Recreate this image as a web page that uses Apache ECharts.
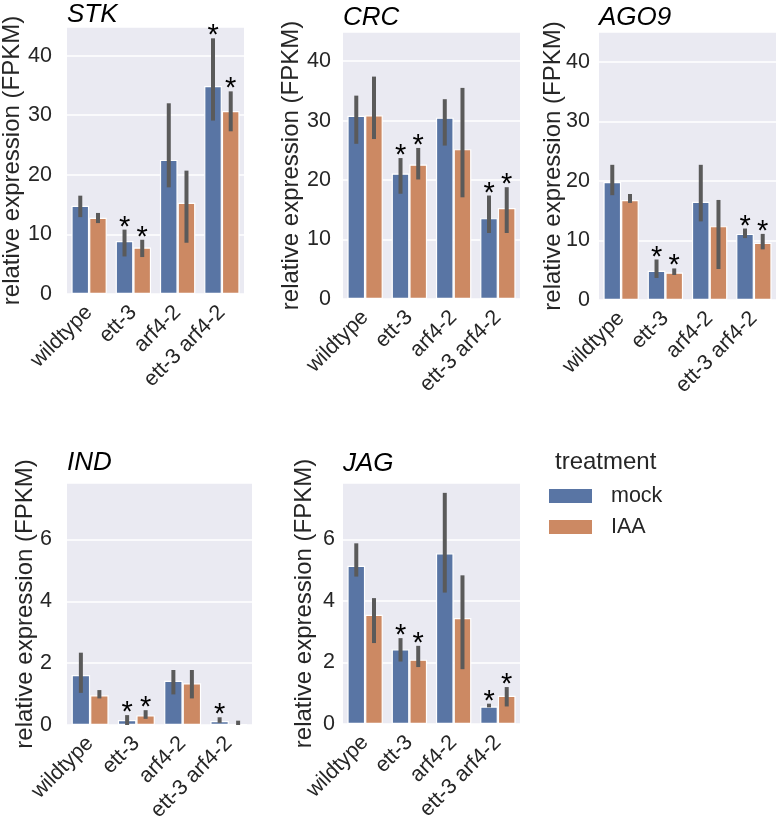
<!DOCTYPE html>
<html><head><meta charset="utf-8">
<script src="https://cdn.jsdelivr.net/npm/echarts@6/dist/echarts.min.js"></script>
<style>html,body{margin:0;padding:0;background:#fff}#c{width:779px;height:826px}</style>
</head><body><div id="c"></div>
<script>
const genotypes = ['wildtype', 'ett-3', 'arf4-2', 'ett-3 arf4-2'];
const treatments = ['mock', 'IAA'];
const genes = ['STK', 'CRC', 'AGO9', 'IND', 'JAG'];

const stkMock = [14.8, 8.9, 22.5, 34.9];
const stkIAA = [12.8, 7.8, 15.3, 30.7];
const stkMockCI = [[12.9, 16.5], [6.3, 10.8], [17.9, 32.0], [29.1, 42.9]];
const stkIAACI = [[11.9, 13.6], [6.2, 9.1], [8.6, 20.7], [27.3, 34.0]];
const stkMockSig = [0, 1, 0, 1];
const stkIAASig = [0, 1, 0, 1];

const crcMock = [30.8, 21.1, 30.5, 13.6];
const crcIAA = [30.9, 22.6, 25.2, 15.3];
const crcMockCI = [[26.1, 34.2], [17.7, 23.7], [25.8, 33.6], [11.1, 17.4]];
const crcIAACI = [[26.9, 37.4], [20.1, 25.4], [17.1, 35.5], [11.1, 18.8]];
const crcMockSig = [0, 1, 0, 1];
const crcIAASig = [0, 1, 0, 1];

const ago9Mock = [19.8, 4.9, 16.5, 11.1];
const ago9IAA = [16.8, 4.6, 12.4, 9.6];
const ago9MockCI = [[17.6, 22.7], [3.7, 6.8], [13.2, 22.7], [10.4, 12.0]];
const ago9IAACI = [[16.3, 17.8], [4.2, 5.3], [5.2, 16.8], [8.5, 11.1]];
const ago9MockSig = [0, 1, 0, 1];
const ago9IAASig = [0, 1, 0, 1];

const indMock = [1.62, 0.16, 1.43, 0.13];
const indIAA = [0.96, 0.31, 1.35, 0.03];
const indMockCI = [[1.04, 2.34], [0.0, 0.32], [0.99, 1.78], [0.07, 0.25]];
const indIAACI = [[0.86, 1.13], [0.2, 0.48], [0.86, 1.78], [0.0, 0.14]];
const indMockSig = [0, 1, 0, 1];
const indIAASig = [0, 1, 0, 0];

const jagMock = [5.14, 2.43, 5.55, 0.57];
const jagIAA = [3.55, 2.09, 3.44, 0.92];
const jagMockCI = [[4.79, 5.87], [2.03, 2.79], [4.27, 7.51], [0.54, 0.66]];
const jagIAACI = [[2.63, 4.09], [1.85, 2.54], [1.78, 4.83], [0.57, 1.2]];
const jagMockSig = [0, 1, 0, 1];
const jagIAASig = [0, 1, 0, 1];

const yMax = [44.8, 44.9, 45.0, 7.83, 7.83];
const yInterval = [10, 10, 10, 2, 2];

const panelData = [
  [stkMock, stkIAA, stkMockCI, stkIAACI, stkMockSig, stkIAASig],
  [crcMock, crcIAA, crcMockCI, crcIAACI, crcMockSig, crcIAASig],
  [ago9Mock, ago9IAA, ago9MockCI, ago9IAACI, ago9MockSig, ago9IAASig],
  [indMock, indIAA, indMockCI, indIAACI, indMockSig, indIAASig],
  [jagMock, jagIAA, jagMockCI, jagIAACI, jagMockSig, jagIAASig]
];

// layout (styling only)
const layout = [
  {left: 67, top: 27, width: 177, height: 267, lm: 15, ng: 43, tTop: 2},
  {left: 343, top: 32, width: 177, height: 267, lm: 12, ng: 40, tTop: 5},
  {left: 599, top: 32, width: 177, height: 268, lm: 9, ng: 34, tTop: 5},
  {left: 67, top: 483, width: 185, height: 242, lm: 15, ng: 30, tTop: 450},
  {left: 343, top: 483, width: 177, height: 241, lm: 8, ng: 27, tTop: 451}
];
const colors = ['#5975a4', '#cc8963'];
const FONT = '"Liberation Sans", Arial, Helvetica, sans-serif';
const TXT = '#262626';

const grid = [], xAxis = [], yAxis = [], series = [], title = [];
layout.forEach((L, i) => {
  grid.push({left: L.left, top: L.top, width: L.width, height: L.height, show: true,
    backgroundColor: '#eaeaf2', borderWidth: 0, containLabel: false, outerBoundsMode: 'none'});
  title.push({text: genes[i], left: L.left, top: L.tTop, padding: 0,
    textStyle: {fontSize: 26, fontStyle: 'italic', fontWeight: 'normal', color: '#000', fontFamily: FONT}});
  xAxis.push({type: 'category', gridIndex: i, data: genotypes,
    axisLine: {show: false}, axisTick: {show: false}, splitLine: {show: false},
    axisLabel: {interval: 0, rotate: 45, fontSize: 21.5, color: TXT, fontFamily: FONT, margin: 15, hideOverlap: false}});
  const iv = yInterval[i];
  yAxis.push({type: 'value', gridIndex: i, min: 0, max: yMax[i], interval: iv,
    name: 'relative expression (FPKM)', nameLocation: 'middle', nameGap: L.ng, nameMoveOverlap: false,
    nameTextStyle: {fontSize: 24, color: TXT, fontFamily: FONT},
    axisLine: {show: false}, axisTick: {show: false},
    splitLine: {show: true, lineStyle: {color: '#ffffff', width: 1.6}},
    axisLabel: {fontSize: 21.5, color: TXT, fontFamily: FONT, margin: L.lm,
      formatter: v => (Math.abs(v / iv - Math.round(v / iv)) < 1e-6 ? String(Math.round(v)) : '')}});
  const d = panelData[i];
  [0, 1].forEach(s => {
    series.push({type: 'bar', name: treatments[s], xAxisIndex: i, yAxisIndex: i,
      data: d[s], barGap: '0%', barCategoryGap: '20%',
      itemStyle: {color: colors[s], borderColor: '#ffffff', borderWidth: 1.2},
      emphasis: {disabled: true}, animation: false, z: 2});
  });
  [0, 1].forEach(s => {
    const side = s === 0 ? -1 : 1;
    const ci = d[2 + s], sig = d[4 + s];
    series.push({type: 'custom', xAxisIndex: i, yAxisIndex: i, z: 5, animation: false,
      encode: {x: 0, y: [1, 2]},
      data: genotypes.map((g, k) => [k, ci[k][0], ci[k][1], sig[k]]),
      renderItem: (params, api) => {
        const idx = api.value(0);
        const band = api.size([1, 0])[0];
        const x = api.coord([idx, 0])[0] + side * band * 0.2;
        const lo = api.coord([idx, api.value(1)])[1];
        const hi = api.coord([idx, api.value(2)])[1];
        const ch = [{type: 'line', shape: {x1: x, y1: lo, x2: x, y2: hi},
          style: {stroke: '#5a5a5a', lineWidth: 4}}];
        if (api.value(3)) {
          ch.push({type: 'text', x: x, y: hi - 2,
            style: {text: '*', fill: '#000', font: '29px ' + FONT, textAlign: 'center', textVerticalAlign: 'middle'}});
        }
        return {type: 'group', children: ch};
      }});
  });
});

title.push({text: 'treatment', left: 555, top: 450, padding: 0,
  textStyle: {fontSize: 24, fontWeight: 'normal', color: TXT, fontFamily: FONT}});

const chart = echarts.init(document.getElementById('c'), null, {renderer: 'canvas'});
chart.setOption({
  animation: false,
  backgroundColor: '#ffffff',
  title: title,
  grid: grid,
  xAxis: xAxis,
  yAxis: yAxis,
  legend: {data: treatments, orient: 'vertical', left: 549, top: 485, padding: 0,
    itemWidth: 43, itemHeight: 14, itemGap: 9, icon: 'rect', selectedMode: false,
    itemStyle: {borderWidth: 0},
    textStyle: {fontSize: 21.5, color: TXT, fontFamily: FONT, padding: [0, 0, 0, 14]}},
  series: series
});
</script></body></html>
